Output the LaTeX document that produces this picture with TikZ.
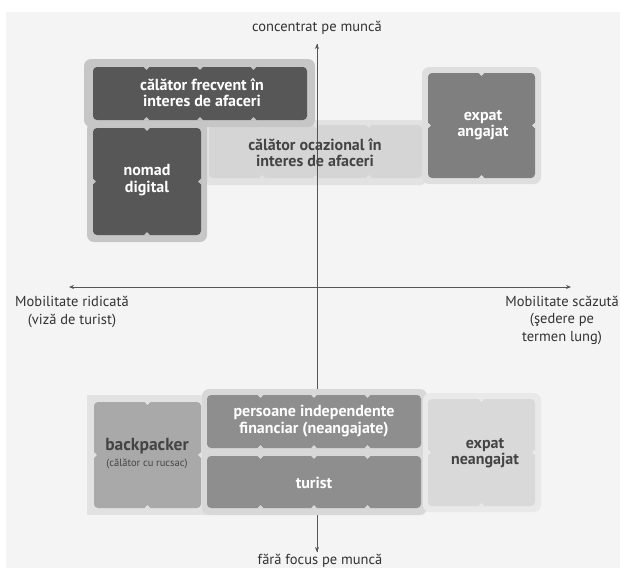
\documentclass[tikz,border=0pt]{standalone}
\usepackage{fontspec}
\setmainfont{PT Sans}
\usetikzlibrary{arrows.meta}

\definecolor{bgcol}{HTML}{F4F4F4}
\definecolor{axiscol}{HTML}{555555}
\definecolor{axistext}{HTML}{333333}
\definecolor{darktile}{HTML}{575757}
\definecolor{darkout}{HTML}{C6C6C6}
\definecolor{ocaztile}{HTML}{D5D5D5}
\definecolor{ocazout}{HTML}{E2E2E2}
\definecolor{expatile}{HTML}{7F7F7F}
\definecolor{expaout}{HTML}{DEDEDE}
\definecolor{backtile}{HTML}{A9A9A9}
\definecolor{backout}{HTML}{E2E2E2}
\definecolor{midtile}{HTML}{8E8E8E}
\definecolor{midout}{HTML}{D8D8D8}
\definecolor{lighttile}{HTML}{D9D9D9}
\definecolor{lightout}{HTML}{E9E9E9}
\definecolor{darktext}{HTML}{444444}

% a rounded block split into cols x rows pieces by small notches
% #1,#2 = top left, #3,#4 = bottom right, #5 cols, #6 rows, #7 fill, #8 notch colour
\newcommand{\tileblock}[8]{%
  \fill[tile,#7] (#1,#2) rectangle (#3,#4);
  \pgfmathsetmacro\tlw{(#3-#1)/#5}%
  \pgfmathsetmacro\tlh{(#4-#2)/#6}%
  \ifnum#5>1\relax
    \foreach \kk in {2,...,#5}{%
      \pgfmathsetmacro\nx{#1+(\kk-1)*\tlw}%
      \fill[#8] (\nx-3.2,#2-0.5) -- (\nx,#2+3) -- (\nx+3.2,#2-0.5) -- cycle;
      \fill[#8] (\nx-3.2,#4+0.5) -- (\nx,#4-3) -- (\nx+3.2,#4+0.5) -- cycle;
    }%
  \fi
  \ifnum#6>1\relax
    \foreach \kk in {2,...,#6}{%
      \pgfmathsetmacro\ny{#2+(\kk-1)*\tlh}%
      \fill[#8] (#1-0.5,\ny-3.2) -- (#1+3,\ny) -- (#1-0.5,\ny+3.2) -- cycle;
      \fill[#8] (#3+0.5,\ny-3.2) -- (#3-3,\ny) -- (#3+0.5,\ny+3.2) -- cycle;
    }%
  \fi
}

\begin{document}
\begin{tikzpicture}[x=1pt,y=-1pt,
  tile/.style={rounded corners=4pt},
  frame/.style={rounded corners=7pt},
  lbl/.style={align=center,inner sep=0pt,font=\bfseries\fontsize{16}{16.5}\selectfont},
  axlbl/.style={align=center,inner sep=0pt,text=axistext,font=\fontsize{14.5}{17.5}\selectfont},
  axis/.style={draw=axiscol,line width=0.8pt},
  tip/.style={-{Stealth[length=5pt,width=4pt]}},
  tips/.style={{Stealth[length=5pt,width=4pt]}-{Stealth[length=5pt,width=4pt]}}]
\useasboundingbox (0,0) rectangle (620,568);
\fill[white] (0,0) rectangle (620,568);
\fill[bgcol] (6,12) rectangle (620,568);

% occasional business traveller (under the vertical axis)
\fill[frame,ocazout] (203,120) rectangle (427,185);
\tileblock{209}{125}{422}{178}{4}{1}{ocaztile}{ocazout}

% axes
\node[axlbl] (top) at (317,28) {concentrat pe muncă};
\node[axlbl] (bottom) at (320,561) {fără focus pe muncă};
\node[axlbl] (left) at (72,312) {Mobilitate ridicată\\(viză de turist)};
\node[axlbl] (right) at (562,320) {Mobilitate scăzută\\(şedere pe\\termen lung)};
\coordinate (ytop) at (317,44);
\coordinate (ybot) at (317,552);
\coordinate (xleft) at (69,287);
\coordinate (xright) at (571,287);
\draw[axis,tip] (ybot) -- (ytop);
\draw[axis,tip] (ytop) -- (ybot);
\draw[axis,tips] (xleft) -- (xright);

\node[lbl,text=darktext] (ocaz) at (315,153) {călător ocazional în\\interes de afaceri};

% frequent business traveller
\fill[frame,darkout] (84,59) rectangle (315,127);
\tileblock{93}{67}{307}{120}{4}{1}{darktile}{darkout}
\node[lbl,text=white] (frecvent) at (202,93) {călător frecvent în\\interes de afaceri};

% digital nomad
\fill[frame,darkout] (87,122) rectangle (207,242);
\tileblock{93}{128}{201}{235}{2}{2}{darktile}{darkout}
\node[lbl,text=white] (nomad) at (147,180) {nomad\\digital};

% employed expat
\fill[frame,expaout] (422,67) rectangle (541,184);
\tileblock{428}{73}{535}{178}{2}{2}{expatile}{expaout}
\node[lbl,text=white] (expatang) at (483,125) {expat\\angajat};

% backpacker
\fill[backout] (87,395) rectangle (207,515);
\tileblock{94}{402}{201}{508}{2}{2}{backtile}{backout}
\node[lbl,text=darktext,font=\bfseries\fontsize{17.5}{20}\selectfont] (back) at (147,446) {backpacker};
\node[axlbl,text=darktext,font=\fontsize{10.5}{12}\selectfont] (backsub) at (147,464) {(călător cu rucsac)};

% financially independent + tourist
\fill[frame,midout] (202,389) rectangle (427,515);
\tileblock{207}{395}{421}{448}{4}{1}{midtile}{midout}
\tileblock{207}{456}{421}{508}{4}{1}{midtile}{midout}
\node[lbl,text=white] (indep) at (314,421) {persoane independente\\financiar (neangajate)};
\node[lbl,text=white] (turist) at (314,483) {turist};

% unemployed expat
\fill[frame,lightout] (423,393) rectangle (541,512);
\tileblock{428}{399}{535}{506}{2}{2}{lighttile}{lightout}
\node[lbl,text=darktext] (expatne) at (485,453) {expat\\neangajat};
\end{tikzpicture}
\end{document}
